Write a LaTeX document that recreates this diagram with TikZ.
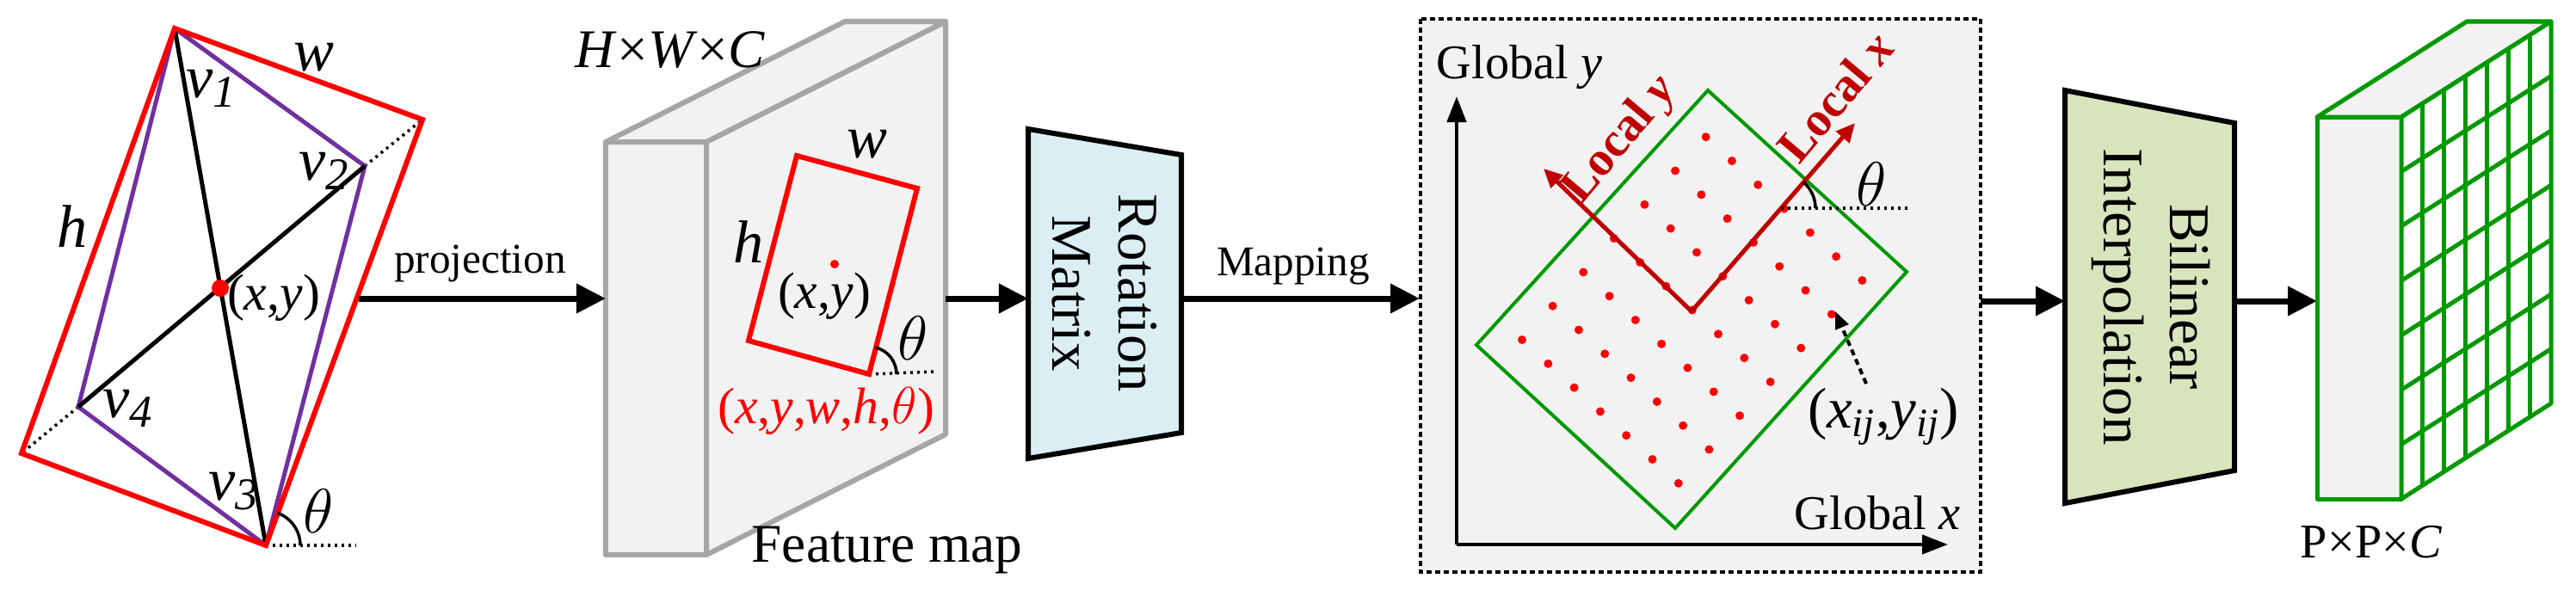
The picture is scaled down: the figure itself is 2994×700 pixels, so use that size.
\documentclass[tikz,border=0pt]{standalone}
\usepackage{fontspec}
\setmainfont{Liberation Serif}
\usetikzlibrary{arrows.meta,calc}
\definecolor{myred}{RGB}{255,0,0}
\definecolor{dred}{RGB}{192,0,0}
\definecolor{mypurple}{RGB}{112,48,160}
\definecolor{mygreen}{RGB}{0,153,0}
\definecolor{panel}{RGB}{242,242,242}
\definecolor{fgray}{RGB}{166,166,166}
\definecolor{rotblue}{RGB}{218,238,243}
\definecolor{biline}{RGB}{216,228,188}
\newcommand{\vv}[1]{{\itshape v}\raisebox{-0.35ex}{\fontsize{15}{15}\selectfont #1}}
\tikzset{
  big/.style={-{Triangle[length=0.34cm,width=0.33cm]},line width=0.07cm},
  lab/.style={font=\fontsize{20}{22}\selectfont\itshape,inner sep=0},
  txt/.style={font=\fontsize{14}{16}\selectfont,inner sep=0},
  dot/.style={fill=myred,circle,inner sep=0,minimum size=0.08cm},
  dotl/.style={line width=0.035cm,dash pattern=on 0.03cm off 0.05cm},
}
\begin{document}
\begin{tikzpicture}[x=0.01cm,y=-0.01cm]
\useasboundingbox (0,0) rectangle (2994,700);
% ---------- left geometry
\coordinate (T) at (203,33); \coordinate (R) at (491,139);
\coordinate (B) at (309,634); \coordinate (L) at (25,527);
\coordinate (V2) at (424,193); \coordinate (V4) at (91,473);
\coordinate (C) at (256,335);
\draw[dotl] (V2)--(R); \draw[dotl] (V4)--(L);
\draw[dotl] (B)--++(105,0) coordinate (BH);
\draw[mypurple,line width=0.05cm,line join=round] (T)--(V2)--(B)--(V4)--cycle;
\draw[line width=0.05cm] (T)--(B); \draw[line width=0.05cm] (V2)--(V4);
\draw[myred,line width=0.06cm,line join=miter] (T)--(R)--(B)--(L)--cycle;
\node[dot,minimum size=0.2cm] (c) at (C) {};
\draw[line width=0.035cm] ($(B)+(40,0)$) arc[start angle=0,end angle=-70,radius=40];
\node[lab] (lw) at (365,67) {w};
\node[lab] (lv1) at (245,103) {\vv{1}};
\node[lab] (lv2) at (376,199) {\vv{2}};
\node[lab] (lh) at (84,263) {h};
\node[lab,font=\fontsize{17}{19}\selectfont] (lxy) at (318,346) {(\textit{x},\textit{y})};
\node[lab] (lv4) at (148,475) {\vv{4}};
\node[lab] (lv3) at (271,571) {\vv{3}};
\node[lab] (lt1) at (370,594) {$\theta$};
% projection arrow
\coordinate (p0) at (417,347);
\node[txt] (lproj) at (558,306) {projection};
% ---------- feature map
\begin{scope}[fgray,line width=0.06cm,line join=round]
\filldraw[fill=panel] (704,165) rectangle (821,645);
\filldraw[fill=panel] (821,165)--++(278,-140)--++(0,480)--(821,645)--cycle;
\filldraw[fill=panel] (704,165)--++(278,-140)--++(117,0)--(821,165)--cycle;
\end{scope}
\draw[big] (p0) -- (704,347);
\node[font=\fontsize{18}{20}\selectfont,inner sep=0] (hwc) at (779,58) {\textit{H}×\textit{W}×\textit{C}};
\node[font=\fontsize{18}{20}\selectfont,inner sep=0] (lfm) at (1031,640) {Feature map};
\coordinate (F1) at (926,181); \coordinate (F2) at (1066,219);
\coordinate (F3) at (1010,435); \coordinate (F4) at (870,396);
\draw[dotl] (F3)--(1087,432);
\draw[myred,line width=0.06cm] (F1)--(F2)--(F3)--(F4)--cycle;
\node[dot,minimum size=0.1cm] (fc) at (970,307) {};
\draw[line width=0.035cm] ($(F3)+(32,0)$) arc[start angle=0,end angle=-76,radius=32];
\node[lab] (fw) at (1008,168) {w};
\node[lab] (fh) at (870,281) {h};
\node[lab,font=\fontsize{17}{19}\selectfont] (fxy) at (958,344) {(\textit{x},\textit{y})};
\node[lab] (ft) at (1061,393) {$\theta$};
\node[lab,font=\fontsize{17}{19}\selectfont,text=myred] (fparam) at (960,478) {(\textit{x},\textit{y},\textit{w},\textit{h},$\theta$)};
% ---------- rotation matrix
\filldraw[fill=rotblue,line width=0.06cm] (1195,150)--(1373,180)--(1373,503)--(1195,533)--cycle;
\node[font=\fontsize{19}{22}\selectfont,rotate=-90,align=center,inner sep=0] (rot) at (1284,341) {Rotation\\Matrix};
\draw[big] (1099,347) -- (1195,347);
\draw[big] (1373,347) -- (1650,347);
\node[txt] (lmap) at (1503,310) {Mapping};
% ---------- middle panel
\draw[fill=panel,line width=0.04cm,dash pattern=on 0.06cm off 0.04cm] (1651,22) rectangle (2302,665);
\coordinate (O) at (1693,633);
\draw[-{Triangle[length=0.3cm,width=0.22cm]},line width=0.045cm] (O)--(1693,112);
\draw[-{Triangle[length=0.3cm,width=0.22cm]},line width=0.045cm] (O)--(2264,633);
\node[txt,font=\fontsize{16}{18}\selectfont] (gy) at (1766,78) {Global \textit{y}};
\node[txt,font=\fontsize{16}{18}\selectfont] (gx) at (2182,596) {Global \textit{x}};
\draw[mygreen,line width=0.04cm] (1716,401)--(1985,105)--(2216,316)--(1947,614)--cycle;
\foreach \i in {0,...,6}{\foreach \j in {0,...,6}{
  \fill[myred] ({1769+35.6*\i+30.3*\j},{395-39.3*\i+27.8*\j}) circle[radius=5];}}
\coordinate (lo) at (1966,362);
\draw[dred,line width=0.05cm,-{Triangle[length=0.22cm,width=0.2cm]}] (lo)--(1794,196) coordinate (ly);
\draw[dred,line width=0.05cm,-{Triangle[length=0.22cm,width=0.2cm]}] (lo)--(2156,143) coordinate (lx);
\node[font=\fontsize{16}{18}\selectfont\bfseries,text=dred,rotate=50,inner sep=0] (tly) at (1884,163) {Local \textit{y}};
\node[font=\fontsize{16}{18}\selectfont\bfseries,text=dred,rotate=50,inner sep=0] (tlx) at (2133,112) {Local \textit{x}};
\draw[dotl] (2070,242)--(2218,242);
\draw[line width=0.035cm] (2110,242) arc[start angle=0,end angle=-49,radius=40];
\node[lab] (mt) at (2175,214) {$\theta$};
\node[lab,font=\fontsize{19}{21}\selectfont] (xij) at (2189,484) {(\textit{x}\textsubscript{\textit{ij}},\textit{y}\textsubscript{\textit{ij}})};
\draw[line width=0.04cm,dash pattern=on 0.07cm off 0.05cm,-{Triangle[length=0.2cm,width=0.16cm]}] (2169,446)--(2133,362);
% ---------- bilinear
\draw[big] (2302,350) -- (2400,350);
\filldraw[fill=biline,line width=0.06cm] (2400,105)--(2597,143)--(2597,547)--(2400,585)--cycle;
\node[font=\fontsize{19}{22}\selectfont,rotate=-90,align=center,inner sep=0] (bil) at (2500,345) {Bilinear\\Interpolation};
\draw[big] (2597,350) -- (2693,350);
% ---------- output cube
\begin{scope}[mygreen,line width=0.05cm,line join=round]
\filldraw[fill=panel] (2693,136) rectangle (2791,580);
\filldraw[fill=panel] (2693,136)--++(174,-111)--++(98,0)--(2791,136)--cycle;
\filldraw[fill=white] (2791,136)--++(174,-111)--++(0,444)--(2791,580)--cycle;
\foreach \t in {1,...,6}{\draw ({2791+174*\t/7},{136-111*\t/7})--++(0,444);}
\foreach \s in {1,...,6}{\draw (2791,{136+444*\s/7})--++(174,-111);}
\end{scope}
\node[txt,font=\fontsize{16}{18}\selectfont] (ppc) at (2756,630) {P×P×\textit{C}};
\end{tikzpicture}
\end{document}
